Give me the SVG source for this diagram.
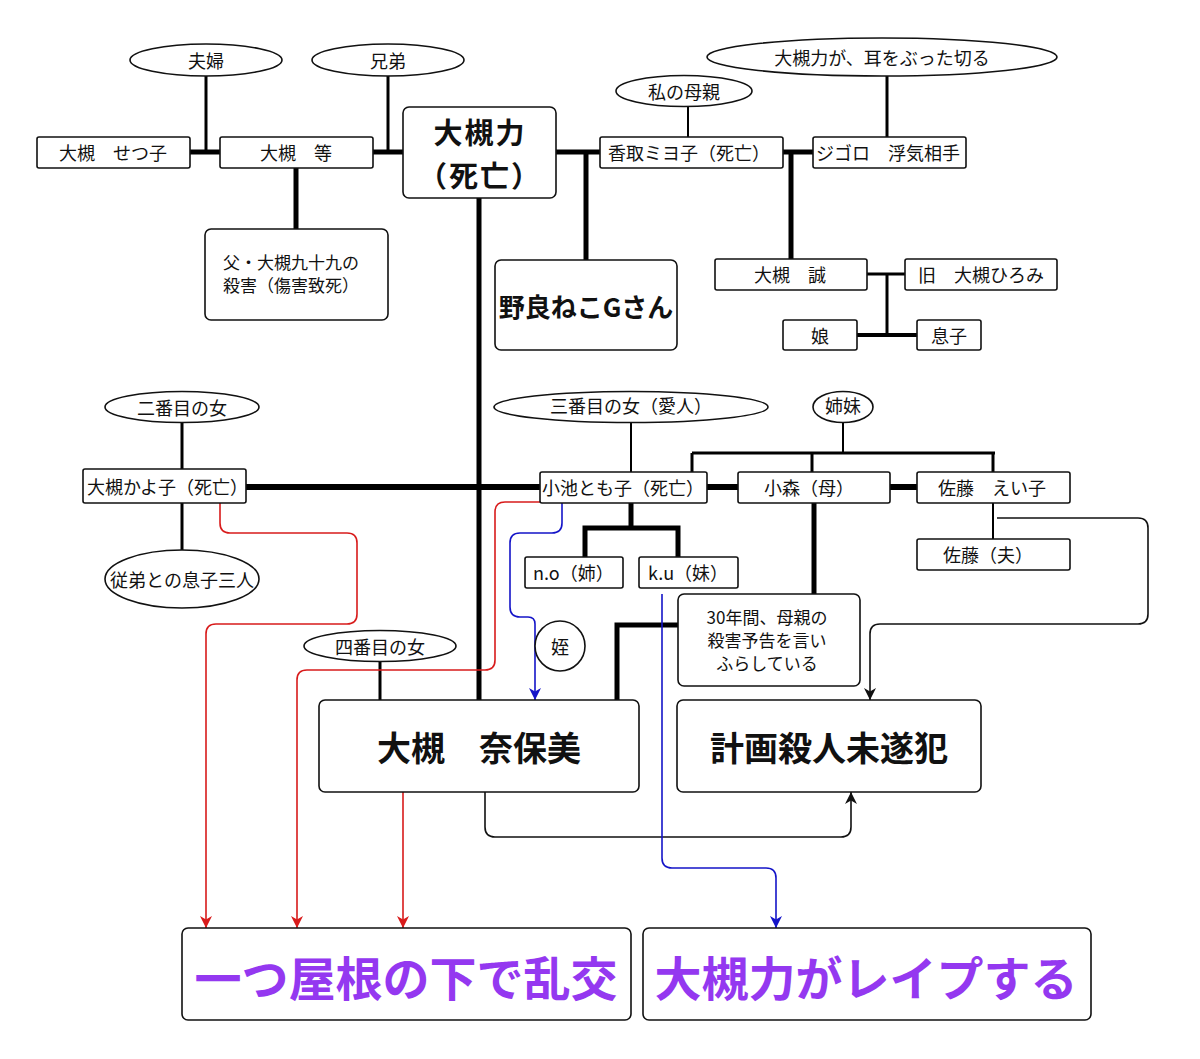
<svg xmlns="http://www.w3.org/2000/svg" width="1200" height="1059" viewBox="0 0 1200 1059">
<defs>
<style>
text{font-family:"Noto Sans CJK JP","Noto Sans",sans-serif;fill:#111;dominant-baseline:central;}
.t{font-size:18px;text-anchor:middle;}
.l{font-size:18px;text-anchor:start;}
.m{font-size:17px;}
.box{fill:#fff;stroke:#111;stroke-width:1.6;}
.big{font-weight:bold;text-anchor:middle;}
.pur{font-weight:bold;text-anchor:middle;fill:#9438f0;font-size:47px;}
.k{stroke:#000;fill:none;}
.w5{stroke-width:5;}
.w3{stroke-width:3;}
.w2{stroke-width:2;}
.red{stroke:#d81b1b;stroke-width:1.6;fill:none;}
.blue{stroke:#1414c8;stroke-width:1.6;fill:none;}
.blk{stroke:#111;stroke-width:1.6;fill:none;}
</style>
<marker id="ar" viewBox="0 0 10 10" refX="10" refY="5" markerWidth="12" markerHeight="12" markerUnits="userSpaceOnUse" orient="auto"><path d="M0,0 L10,5 L0,10 L3,5 Z" fill="#d81b1b"/></marker>
<marker id="ab" viewBox="0 0 10 10" refX="10" refY="5" markerWidth="12" markerHeight="12" markerUnits="userSpaceOnUse" orient="auto"><path d="M0,0 L10,5 L0,10 L3,5 Z" fill="#1414c8"/></marker>
<marker id="ak" viewBox="0 0 10 10" refX="10" refY="5" markerWidth="12" markerHeight="12" markerUnits="userSpaceOnUse" orient="auto"><path d="M0,0 L10,5 L0,10 L3,5 Z" fill="#111"/></marker>
</defs>
<rect width="1200" height="1059" fill="#fff"/>

<g id="connectors">
<line class="k w5" x1="190" y1="152" x2="220" y2="152"/>
<line class="k w3" x1="206" y1="76" x2="206" y2="152"/>
<line class="k w5" x1="373" y1="152" x2="403" y2="152"/>
<line class="k w3" x1="388" y1="76" x2="388" y2="152"/>
<line class="k w5" x1="296" y1="168" x2="296" y2="229"/>
<line class="k w5" x1="479" y1="198" x2="479" y2="700"/>
<line class="k w5" x1="556" y1="152" x2="600" y2="152"/>
<line class="k w5" x1="586" y1="152" x2="586" y2="260"/>
<line class="k w2" x1="688" y1="106" x2="688" y2="137"/>
<line class="k w3" x1="887" y1="76" x2="887" y2="137"/>
<line class="k w5" x1="783" y1="152" x2="813" y2="152"/>
<line class="k w5" x1="791" y1="152" x2="791" y2="259"/>
<line class="k w3" x1="867" y1="274" x2="905" y2="274"/>
<line class="k w3" x1="887" y1="274" x2="887" y2="335"/>
<line class="k" stroke-width="4" x1="857" y1="335" x2="917" y2="335"/>
<line class="k w3" x1="182" y1="423" x2="182" y2="469"/>
<line class="k w3" x1="182" y1="503" x2="182" y2="550"/>
<line class="k" stroke-width="6" x1="246" y1="487" x2="540" y2="487"/>
<line class="k w2" x1="631" y1="422" x2="631" y2="472"/>
<line class="k" stroke-width="6" x1="707" y1="487" x2="738" y2="487"/>
<line class="k" stroke-width="6" x1="890" y1="487" x2="917" y2="487"/>
<line class="k w2" x1="843" y1="422" x2="843" y2="453"/>
<line class="k w3" x1="692" y1="453" x2="995" y2="453"/>
<line class="k w3" x1="692" y1="453" x2="692" y2="472"/>
<line class="k w3" x1="812" y1="453" x2="812" y2="472"/>
<line class="k w3" x1="993" y1="453" x2="993" y2="472"/>
<line class="k w5" x1="631" y1="503" x2="631" y2="528"/>
<polyline class="k w5" points="585,557 585,528 678,528 678,557"/>
<line class="k w5" x1="814" y1="503" x2="814" y2="594"/>
<polyline class="k w5" points="678,625 617,625 617,700"/>
<line class="k w2" x1="993" y1="503" x2="993" y2="539"/>
<line class="k w3" x1="380" y1="661" x2="380" y2="700"/>
<path class="blk" d="M997,518 H1138 Q1148,518 1148,528 V614 Q1148,624 1138,624 H880 Q870,624 870,634 V700" marker-end="url(#ak)"/>
<path class="blk" d="M485,792 V827 Q485,837 495,837 H841 Q851,837 851,827 V792" marker-end="url(#ak)"/>
<path class="red" d="M220,503 V523 Q220,533 230,533 H347 Q357,533 357,543 V614 Q357,624 347,624 H216 Q206,624 206,634 V928" marker-end="url(#ar)"/>
<path class="red" d="M540,502 H505 Q495,502 495,512 V660 Q495,670 485,670 H307 Q297,670 297,680 V928" marker-end="url(#ar)"/>
<path class="red" d="M403,792 V928" marker-end="url(#ar)"/>
<path class="blue" d="M562,503 V523 Q562,533 552,533 H520 Q510,533 510,543 V607 Q510,617 520,617 H528 Q535,617 535,624 V700" marker-end="url(#ab)"/>
<path class="blue" d="M662,594 V858 Q662,868 672,868 H766 Q776,868 776,878 V928" marker-end="url(#ab)"/>
</g>

<g id="n-fuufu"><ellipse class="box" cx="206" cy="60" rx="76" ry="16"/><text class="t" x="206" y="60">夫婦</text></g>
<g id="n-kyoudai"><ellipse class="box" cx="388" cy="60" rx="76" ry="16"/><text class="t" x="388" y="60">兄弟</text></g>
<g id="n-setsuko"><rect class="box" x="37" y="137" width="153" height="31" rx="2"/><text class="t" x="113" y="152">大槻　せつ子</text></g>
<g id="n-hitoshi"><rect class="box" x="220" y="137" width="153" height="31" rx="2"/><text class="t" x="296" y="152">大槻　等</text></g>
<g id="n-tsukumo"><rect class="box" x="205" y="229" width="183" height="91" rx="6"/><text class="l m" x="223" y="261">父・大槻九十九の</text><text class="l m" x="223" y="284">殺害（傷害致死）</text></g>
<g id="n-chikara"><rect class="box" x="403" y="107" width="153" height="91" rx="6"/><text class="big" x="480" y="131" font-size="29" letter-spacing="2">大槻力</text><text class="big" x="480" y="174" font-size="29" letter-spacing="2">（死亡）</text></g>
<g id="n-noraneko"><rect class="box" x="495" y="260" width="182" height="90" rx="6"/><text class="big" x="586" y="305" font-size="26">野良ねこGさん</text></g>
<g id="n-watashinohaha"><ellipse class="box" cx="684" cy="91" rx="68" ry="15.5"/><text class="t" x="684" y="91">私の母親</text></g>
<g id="n-mimi"><ellipse class="box" cx="882" cy="57" rx="175" ry="19"/><text class="t" x="882" y="57">大槻力が、耳をぶった切る</text></g>
<g id="n-katori"><rect class="box" x="600" y="137" width="183" height="31" rx="2"/><text class="t" x="689" y="152">香取ミヨ子（死亡）</text></g>
<g id="n-jigoro"><rect class="box" x="813" y="137" width="153" height="31" rx="2"/><text class="l" x="816" y="152">ジゴロ　浮気相手</text></g>
<g id="n-makoto"><rect class="box" x="715" y="259" width="152" height="31" rx="2"/><text class="t" x="790" y="274">大槻　誠</text></g>
<g id="n-hiromi"><rect class="box" x="905" y="259" width="152" height="31" rx="2"/><text class="t" x="981" y="274">旧　大槻ひろみ</text></g>
<g id="n-musume"><rect class="box" x="783" y="320" width="74" height="30" rx="2"/><text class="t" x="820" y="335">娘</text></g>
<g id="n-musuko"><rect class="box" x="917" y="320" width="64" height="30" rx="2"/><text class="t" x="949" y="335">息子</text></g>

<g id="n-nibanme"><ellipse class="box" cx="182" cy="407" rx="77" ry="15.5"/><text class="t" x="182" y="407">二番目の女</text></g>
<g id="n-kayoko"><rect class="box" x="83" y="469" width="163" height="34" rx="2"/><text class="l" x="87" y="486">大槻かよ子（死亡）</text></g>
<g id="n-itoko"><ellipse class="box" cx="182" cy="579" rx="77" ry="29"/><text class="t" x="182" y="579">従弟との息子三人</text></g>
<g id="n-sanbanme"><ellipse class="box" cx="631" cy="407" rx="137" ry="15.5"/><text class="t" x="631" y="405">三番目の女（愛人）</text></g>
<g id="n-shimai"><ellipse class="box" cx="843" cy="407" rx="30" ry="15.5"/><text class="t" x="843" y="405">姉妹</text></g>
<g id="n-koike"><rect class="box" x="540" y="472" width="167" height="31" rx="2"/><text class="l" x="542" y="487">小池とも子（死亡）</text></g>
<g id="n-komori"><rect class="box" x="738" y="472" width="152" height="31" rx="2"/><text class="t" x="809" y="487">小森（母）</text></g>
<g id="n-eiko"><rect class="box" x="917" y="472" width="153" height="31" rx="2"/><text class="t" x="992" y="487">佐藤　えい子</text></g>
<g id="n-sato"><rect class="box" x="917" y="539" width="153" height="31" rx="2"/><text class="t" x="988" y="554">佐藤（夫）</text></g>
<g id="n-no"><rect class="box" x="525" y="557" width="98" height="31" rx="2"/><text class="l" x="533" y="572">n.o（姉）</text></g>
<g id="n-ku"><rect class="box" x="639" y="557" width="99" height="31" rx="2"/><text class="l" x="648" y="572">k.u（妹）</text></g>
<g id="n-30nen"><rect class="box" x="678" y="594" width="182" height="92" rx="6"/><text class="t m" x="767" y="616">30年間、母親の</text><text class="t m" x="767" y="639">殺害予告を言い</text><text class="t m" x="767" y="662">ふらしている</text></g>
<g id="n-yonbanme"><ellipse class="box" cx="380" cy="646" rx="76" ry="15.5"/><text class="t" x="380" y="646">四番目の女</text></g>
<g id="n-mei"><circle class="box" cx="560" cy="646" r="25"/><text class="t" x="560" y="646">姪</text></g>
<g id="n-naho"><rect class="box" x="319" y="700" width="320" height="92" rx="6"/><text class="big" x="479" y="746" font-size="34">大槻　奈保美</text></g>
<g id="n-keikaku"><rect class="box" x="677" y="700" width="304" height="92" rx="6"/><text class="big" x="829" y="746" font-size="34">計画殺人未遂犯</text></g>
<g id="n-rankou"><rect class="box" x="182" y="928" width="449" height="92" rx="6"/><text class="pur" x="406" y="975">一つ屋根の下で乱交</text></g>
<g id="n-rape"><rect class="box" x="643" y="928" width="448" height="92" rx="6"/><text class="pur" x="866" y="975">大槻力がレイプする</text></g>
</svg>
